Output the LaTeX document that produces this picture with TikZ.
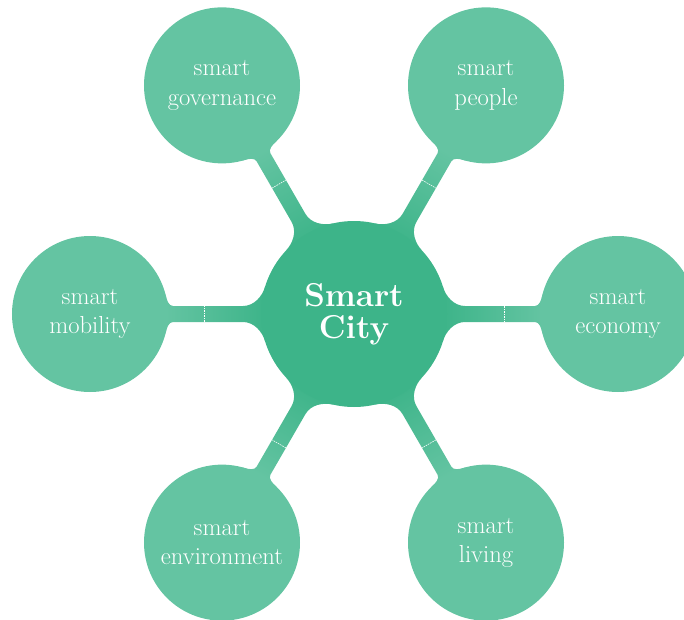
\documentclass[tikz,border=0pt]{standalone}
\definecolor{hubgreen}{HTML}{3DB489}
\definecolor{leafgreen}{HTML}{64C4A2}
\pgfdeclarelayer{bg}
\pgfsetlayers{bg,main}
\begin{document}
\begin{tikzpicture}[
  hub/.style={shape=circle,fill=hubgreen,minimum size=4.65cm,inner sep=0pt,outer sep=0pt,
    text=white,align=center,font=\bfseries\fontsize{23.5}{23}\selectfont},
  leaf/.style={shape=circle,fill=leafgreen,minimum size=3.9cm,inner sep=0pt,outer sep=0pt,
    text=white,align=center,font=\fontsize{17.5}{20.8}\selectfont}]
  \useasboundingbox (-8.85,-7.625) rectangle (8.25,7.85);
  \node [hub] (city) at (0,0) {Smart\\City};
  \node [leaf] (gov) at (120:6.6) {smart\\governance};
  \node [leaf] (people) at (60:6.6) {smart\\people};
  \node [leaf] (mobility) at (180:6.6) {smart\\mobility};
  \node [leaf] (economy) at (0:6.6) {smart\\economy};
  \node [leaf] (environment) at (240:6.6) {smart\\environment};
  \node [leaf] (living) at (300:6.6) {smart\\living};
  % bridges between hub and leaves, under the circles
  \begin{pgfonlayer}{bg}
  \foreach \a/\n in {120/gov,60/people,180/mobility,0/economy,240/environment,300/living} {
    \pgfmathsetmacro\hubup{\a+17}
    \pgfmathsetmacro\hubdn{\a-17}
    \pgfmathsetmacro\leafup{mod(\a+165,360)}
    \pgfmathsetmacro\leafdn{mod(\a+195,360)}
    \pgfmathsetmacro\ang{\a-90}
    \begin{scope}[rotate=\a]
      \shade [top color=leafgreen,bottom color=hubgreen,shading angle=\ang]
        (city.\hubup) .. controls (2.295,0.44) and (2.5,0.2) .. (2.775,0.2) -- (4.525,0.2)
        .. controls (4.625,0.2) and (4.6825,0.33) .. (\n.\leafup) -- (\n.\leafdn)
        .. controls (4.6825,-0.33) and (4.625,-0.2) .. (4.525,-0.2) -- (2.775,-0.2)
        .. controls (2.5,-0.2) and (2.295,-0.44) .. (city.\hubdn) -- cycle;
      \draw [white,line width=0.4pt,dash pattern=on 1.2pt off 0.6pt] (3.75,0.2) -- (3.75,-0.2);
    \end{scope}
  }
  \end{pgfonlayer}
\end{tikzpicture}
\end{document}
